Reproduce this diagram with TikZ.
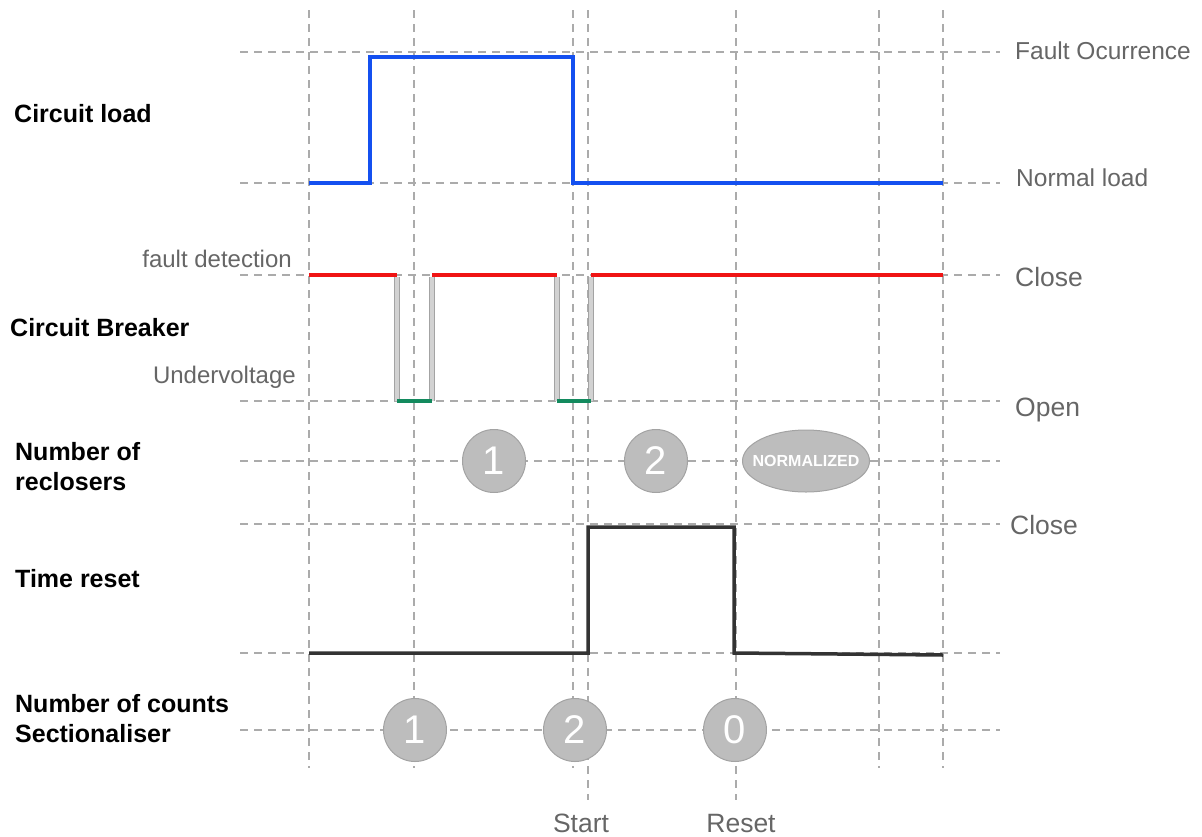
\documentclass[tikz,border=0pt]{standalone}
\usepackage{fontspec}
\setmainfont{Liberation Sans}
\usetikzlibrary{shapes.geometric}
\definecolor{gridgray}{HTML}{ABABAB}
\definecolor{loadblue}{HTML}{1450F0}
\definecolor{closered}{HTML}{F01414}
\definecolor{opengreen}{HTML}{138A5E}
\definecolor{edgegray}{HTML}{A3A3A3}
\definecolor{railgray}{HTML}{D2D2D2}
\definecolor{labelgray}{HTML}{666666}
\definecolor{discgray}{HTML}{BDBDBD}
\definecolor{resetblack}{HTML}{333333}

\begin{document}
\begin{tikzpicture}[
  x=1pt,y=-1pt,
  gridline/.style={draw=gridgray,line width=1.6pt,dash pattern=on 8pt off 6pt},
  rowlabel/.style={font=\fontsize{25}{30}\selectfont\bfseries,anchor=base west,inner sep=0pt,align=left},
  statelabel/.style={font=\fontsize{26.5}{30}\selectfont,text=labelgray,anchor=base west,inner sep=0pt},
  notelabel/.style={font=\fontsize{24}{28}\selectfont,text=labelgray,anchor=base east,inner sep=0pt},
  disc/.style={circle,draw=edgegray,line width=1pt,fill=discgray,minimum size=63pt,inner sep=0pt,text=white,font=\fontsize{40}{40}\selectfont},
  sig/.style={line width=4pt,line join=miter},
  rail/.style={draw=edgegray,line width=0.8pt,double=railgray,double distance=3.6pt}
]
\useasboundingbox (0,0) rectangle (1202,836);

% grid
\foreach \x in {309,414,573,879,943}
  \draw[gridline] (\x,10) -- (\x,768);
\foreach \x in {588,736}
  \draw[gridline] (\x,10) -- (\x,800);
\foreach \y in {52,183,275,401,461,524,653,730}
  \draw[gridline] (240,\y) -- (1000,\y);

% circuit load
\draw[sig,draw=loadblue] (309,183) -- (370,183) -- (370,57) -- (573,57) -- (573,183) -- (943,183);

% circuit breaker
\foreach \x in {397,432,557,591}
  \draw[rail] (\x,277) -- (\x,401);
\draw[sig,draw=closered] (309,275) -- (397,275);
\draw[sig,draw=closered] (432,275) -- (557,275);
\draw[sig,draw=closered] (591,275) -- (943,275);
\draw[sig,line width=3.5pt,draw=opengreen] (397,401) -- (432,401);
\draw[sig,line width=3.5pt,draw=opengreen] (557,401) -- (591,401);

% time reset
\draw[sig,line width=3.5pt,draw=resetblack] (309,653) -- (588,653) -- (588,527) -- (734,527) -- (734,653) -- (943,655);

% counters
\node[disc] (rc1) at (494,461) {1};
\node[disc] (rc2) at (656,461) {2};
\node[ellipse,draw=edgegray,line width=1pt,fill=discgray,minimum width=127pt,minimum height=62pt,inner sep=0pt,text=white,font=\fontsize{16}{16}\selectfont\bfseries] (rcn) at (806,461) {\makebox[0pt]{NORMALIZED}};
\node[disc] (sc1) at (415,730) {1};
\node[disc] (sc2) at (575,730) {2};
\node[disc] (sc0) at (735,730) {0};

% row titles
\node[rowlabel] (load) at (14,122) {Circuit load};
\node[rowlabel] (breaker) at (10,336) {Circuit Breaker};
\node[rowlabel] (reclosers) at (15,490) {Number of\\reclosers};
\node[rowlabel] (timer) at (15,587) {Time reset};
\node[rowlabel] (counts) at (15,742) {Number of counts\\Sectionaliser};

% levels
\node[statelabel,font=\fontsize{24.5}{28}\selectfont] (fault) at (1015,59) {Fault Ocurrence};
\node[statelabel,font=\fontsize{24.5}{28}\selectfont] (normal) at (1016,186) {Normal load};
\node[statelabel] (close) at (1015,286) {Close};
\node[statelabel] (open) at (1015,416) {Open};
\node[statelabel] (closetr) at (1010,534) {Close};
\node[statelabel,anchor=base] (start) at (581,832) {Start};
\node[statelabel,anchor=base] (resetpt) at (741,832) {Reset};
\node[notelabel] (detect) at (292,267) {fault detection};
\node[notelabel] (underv) at (296,383) {Undervoltage};
\end{tikzpicture}
\end{document}
